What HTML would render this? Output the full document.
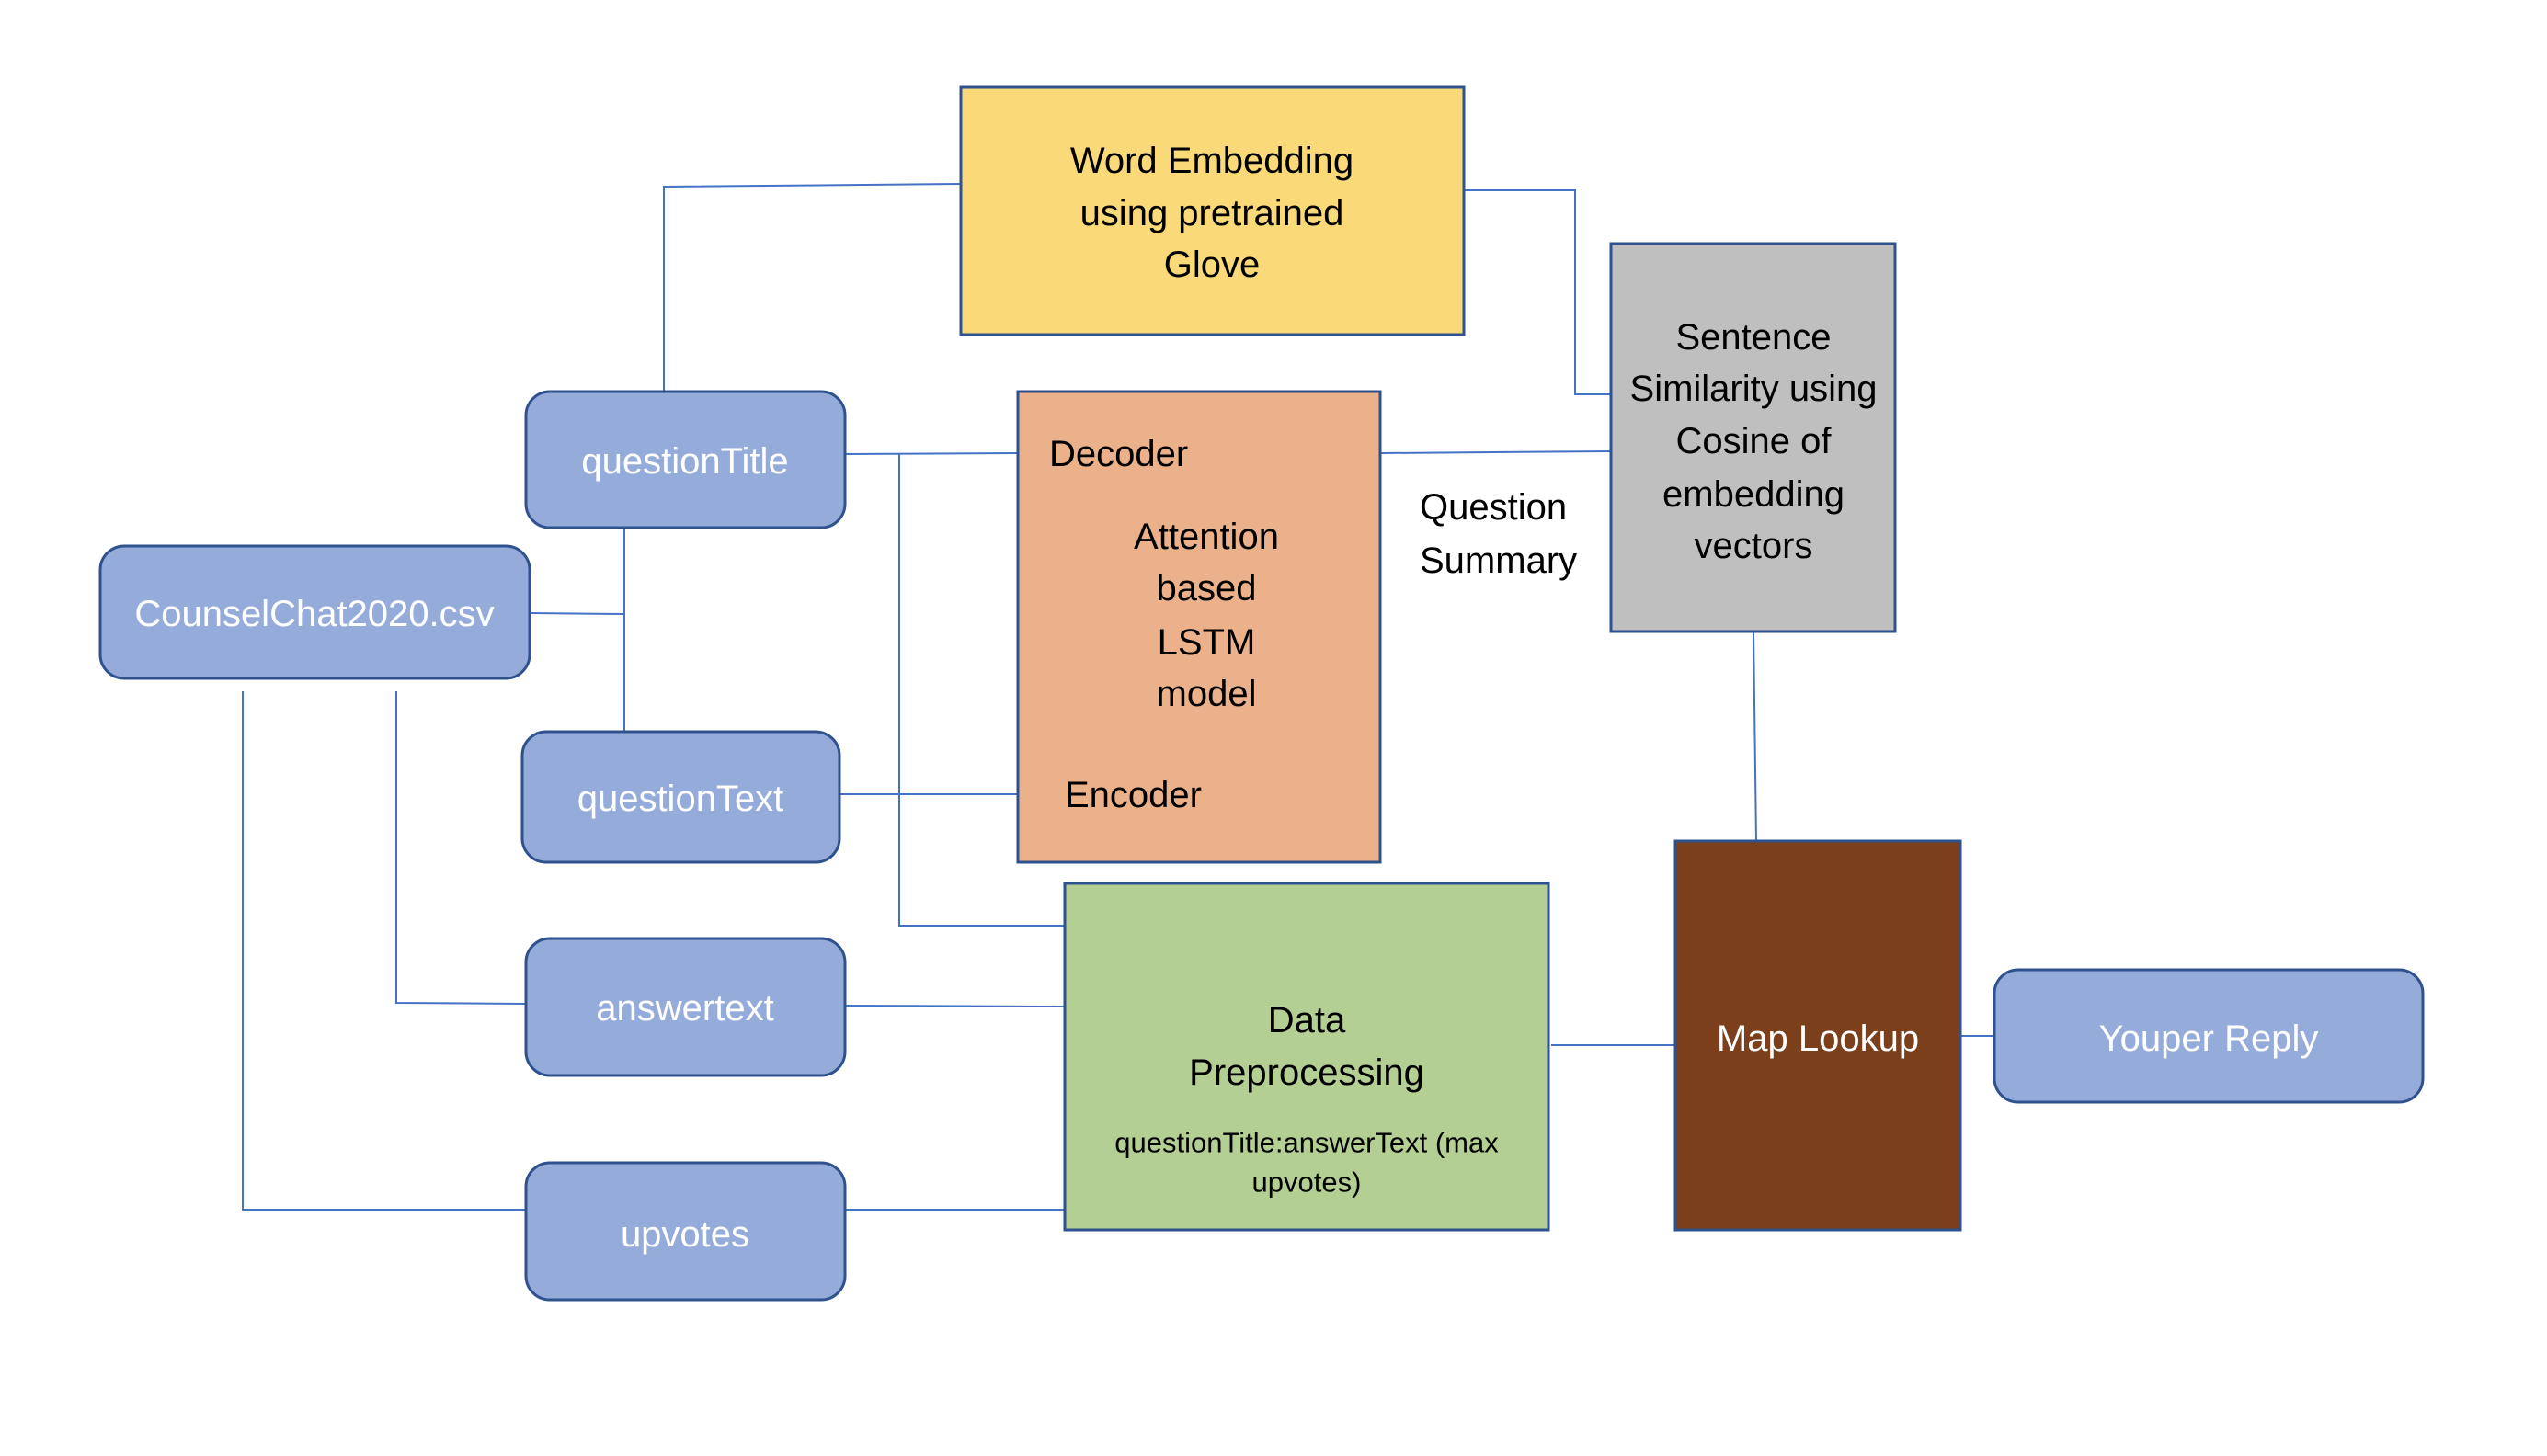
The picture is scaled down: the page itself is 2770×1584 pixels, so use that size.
<!DOCTYPE html>
<html><head><meta charset="utf-8"><style>
html,body{margin:0;padding:0;background:#fff;}
svg{display:block;}
text{font-family:"Liberation Sans",sans-serif;}
</style></head><body>
<svg width="2770" height="1584" viewBox="0 0 2770 1584" xmlns="http://www.w3.org/2000/svg">
<rect width="2770" height="1584" fill="#fff"/>
<g stroke="#4472c4" stroke-width="2" fill="none">
<polyline points="722,426 722,203 1045,200"/>
<polyline points="1592,207 1713,207 1713,429 1752,429"/>
<polyline points="919,494 1107,493"/>
<polyline points="978,494 978,1007 1158,1007"/>
<polyline points="576,667 679,668"/>
<polyline points="679,574 679,796"/>
<polyline points="913,864 1107,864"/>
<polyline points="1501,493 1752,491"/>
<polyline points="431,752 431,1091 572,1092"/>
<polyline points="919,1094 1158,1095"/>
<polyline points="264,752 264,1316 572,1316"/>
<polyline points="919,1316 1158,1316"/>
<polyline points="1907,687 1910,915"/>
<polyline points="1687,1137 1822,1137"/>
<polyline points="2132,1127 2169,1127"/>
</g>
<g stroke="#2f528f" stroke-width="3">
<rect x="1045" y="95" width="547" height="269" fill="#f9d978"/>
<rect x="1107" y="426" width="394" height="512" fill="#ebb18a"/>
<rect x="1752" y="265" width="309" height="422" fill="#bfbfbf"/>
<rect x="1158" y="961" width="526" height="377" fill="#b3cf94"/>
<rect x="1822" y="915" width="310" height="423" fill="#7b3f1b"/>
<rect x="572" y="426" width="347" height="148" rx="26" fill="#95abd9"/>
<rect x="109" y="594" width="467" height="144" rx="26" fill="#95abd9"/>
<rect x="568" y="796" width="345" height="142" rx="26" fill="#95abd9"/>
<rect x="572" y="1021" width="347" height="149" rx="26" fill="#95abd9"/>
<rect x="572" y="1265" width="347" height="149" rx="26" fill="#95abd9"/>
<rect x="2169" y="1055" width="466" height="144" rx="26" fill="#95abd9"/>
</g>
<g font-size="40" fill="#000" text-anchor="middle" dominant-baseline="central">
<text x="1318" y="175">Word Embedding</text>
<text x="1318" y="232">using pretrained</text>
<text x="1318" y="288">Glove</text>
<text x="1312" y="584">Attention</text>
<text x="1312" y="640">based</text>
<text x="1312" y="699">LSTM</text>
<text x="1312" y="755">model</text>
<text x="1907" y="367">Sentence</text>
<text x="1907" y="423">Similarity using</text>
<text x="1907" y="480">Cosine of</text>
<text x="1907" y="538">embedding</text>
<text x="1907" y="594">vectors</text>
<text x="1421" y="1110">Data</text>
<text x="1421" y="1167">Preprocessing</text>
<text x="1421" y="1243" font-size="31">questionTitle:answerText (max</text>
<text x="1421" y="1286" font-size="31">upvotes)</text>
</g>
<g font-size="40" fill="#000" dominant-baseline="central">
<text x="1141" y="494">Decoder</text>
<text x="1158" y="865">Encoder</text>
<text x="1544" y="552">Question</text>
<text x="1544" y="610">Summary</text>
</g>
<g font-size="40" fill="#fff" text-anchor="middle" dominant-baseline="central">
<text x="745" y="502">questionTitle</text>
<text x="342" y="668">CounselChat2020.csv</text>
<text x="740" y="869">questionText</text>
<text x="745" y="1097">answertext</text>
<text x="745" y="1343">upvotes</text>
<text x="1977" y="1130">Map Lookup</text>
<text x="2402" y="1130">Youper Reply</text>
</g>
</svg>
</body></html>
